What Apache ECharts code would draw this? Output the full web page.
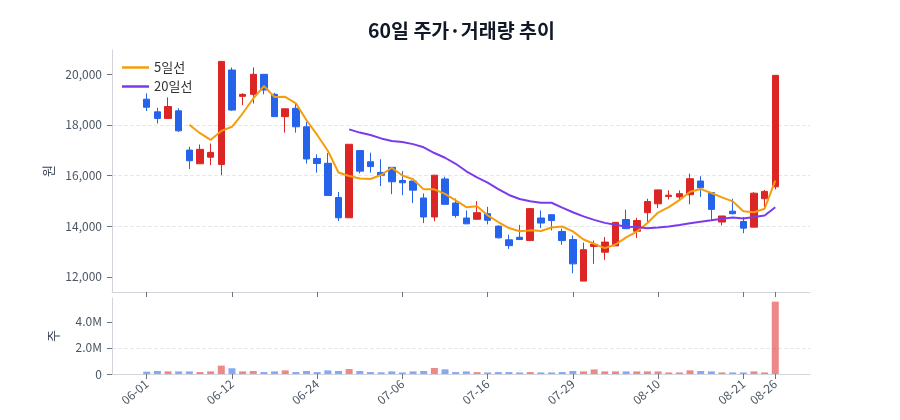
<!DOCTYPE html>
<html>
<head>
<meta charset="utf-8">
<script src="https://cdn.jsdelivr.net/npm/echarts@6.0.0/dist/echarts.min.js"></script>
<style>
  html, body, #main { width: 100%; height: 100%; margin: 0; background: #fff; }
</style>
</head>
<body>
<div id="main"></div>
<script>
var dates = ['06-01','06-02','06-03','06-05','06-07','06-08','06-09','06-10','06-12',
  '06-13','06-14','06-15','06-17','06-18','06-20','06-22','06-24',
  '06-25','06-26','06-28','06-29','07-01','07-02','07-04','07-06',
  '07-07','07-08','07-10','07-11','07-12','07-13','07-14','07-16',
  '07-17','07-19','07-20','07-22','07-23','07-25','07-27','07-29',
  '07-30','08-01','08-02','08-04','08-05','08-06','08-08','08-10',
  '08-11','08-12','08-13','08-15','08-16','08-18','08-19','08-21',
  '08-22','08-25','08-26'];

var opens = [19010,18510,18250,18550,17000,16460,16720,16430,20160,19120,
  19200,19990,19200,18320,18650,17920,16670,16480,15130,14330,
  16980,16540,16120,16320,15800,15780,15110,14360,15860,14910,
  14320,14270,14490,14000,13460,13560,13430,14320,14450,13790,
  13470,11830,13200,12970,13220,14260,13800,14530,14880,15170,
  15150,15240,15780,15320,14160,14590,14180,13960,15080,15550];
var closes = [18690,18250,18720,17760,16580,17030,16910,20500,18580,19200,
  19990,19370,18320,18630,17920,16650,16470,15210,14330,17230,
  16170,16350,16010,15750,15710,15420,14360,16010,14860,14420,
  14090,14530,14230,13540,13230,13470,14690,14120,14220,13430,
  12510,13070,13280,13370,14150,13900,14220,14970,15430,15220,
  15280,15870,15510,14660,14400,14490,13920,15300,15370,19950];
var lows = [18540,18050,18250,17720,16250,16450,16410,16010,18550,18780,
  18840,19200,18320,17690,17690,16470,16110,15210,14200,14330,
  16080,16110,15580,15260,15220,14910,14120,14190,14860,14330,
  14090,14270,14070,13510,13100,13470,13430,13920,13830,13260,
  12140,11830,12510,12670,13220,13900,13530,14160,14710,15050,
  15040,14860,15150,14220,14030,14460,13720,13960,14660,15450];
var highs = [19240,18670,19080,18650,17130,17220,17260,20500,20260,19240,
  20260,19990,19260,18630,18840,18120,16830,16880,15350,17230,
  16980,16900,16640,16320,16170,15780,15290,16010,15950,15090,
  14620,14980,14760,14030,13660,14050,14690,14620,14450,13900,
  13630,13350,13430,13570,14150,14650,14330,15080,15430,15410,
  15410,16070,15970,15320,14400,15080,14360,15340,15430,19950];

var volumes = [180000,230000,200000,200000,200000,150000,200000,640000,440000,200000,
  230000,150000,200000,280000,150000,230000,150000,280000,230000,380000,
  230000,150000,130000,200000,120000,200000,230000,460000,360000,150000,
  200000,140000,120000,150000,150000,120000,150000,120000,120000,150000,
  230000,200000,350000,200000,200000,200000,200000,200000,200000,120000,
  120000,280000,230000,200000,120000,120000,120000,200000,120000,5550000];

// 5일선 from index 4, 20일선 from index 19
var ma5 = [18000,17668,17400,17756,17920,18444,19036,19528,19092,19102,
  18846,18178,17598,16976,16116,15978,15882,15858,16018,16302,
  15998,15848,15450,15450,15272,15014,14748,14782,14426,14162,
  13924,13800,13832,13810,13946,13986,13794,13470,13302,13132,
  13276,13554,13784,14122,14534,14748,15024,15354,15462,15308,
  15136,14978,14588,14546,14688,15798];
var ma20 = [17817,17691,17596,17461,17360,17317,17236,17109,16884,16698,
  16459,16164,15922,15718,15463,15229,15070,14981,14926,14921,
  14731,14548,14384,14247,14128,14050,13974,13967,13915,13944,
  13984,14043,14110,14174,14230,14289,14340,14301,14360,14418,14744];

var tickIdx = [0, 8, 16, 24, 32, 40, 48, 56, 59];
var priceTicks = [12000, 14000, 16000, 18000, 20000];
var volTicks = [0, 2000000, 4000000];

var UP = '#dc2626', DOWN = '#2563eb';
var AXIS = '#d1d5db', TICK = '#6b7280', LABEL = '#4b5563';

var candles = closes.map(function (c, i) { return [i, opens[i], c, lows[i], highs[i]]; });
var volData = volumes.map(function (v, i) {
  return { value: [i, v], itemStyle: { color: closes[i] >= opens[i] ? UP : DOWN, opacity: 0.55 } };
});
var ma5Data = ma5.map(function (v, i) { return [i + 4, v]; });
var ma20Data = ma20.map(function (v, i) { return [i + 19, v]; });

function xAxisOf(grid, withLabels) {
  return {
    type: 'value', gridIndex: grid, min: -3.26, max: 62.26,
    axisLine: { show: true, onZero: false, lineStyle: { color: AXIS } },
    axisTick: { show: true, customValues: tickIdx, length: 5, lineStyle: { color: TICK } },
    axisLabel: withLabels ? {
      customValues: tickIdx, rotate: 40, fontSize: 12, color: LABEL, margin: 8,
      formatter: function (v) { return dates[v]; }
    } : { show: false },
    splitLine: { show: false }
  };
}

var chart = echarts.init(document.getElementById('main'));
chart.setOption({
  animation: false,
  textStyle: { fontFamily: 'Noto Sans CJK KR' },
  title: {
    text: '60일 주가·거래량 추이', left: 363, top: 16,
    textStyle: { fontSize: 19.5, fontWeight: 'bold', color: '#111827', fontFamily: 'Noto Sans CJK KR' }
  },
  legend: {
    orient: 'vertical', left: 117, top: 56, icon: 'rect',
    itemWidth: 27, itemHeight: 2.5, itemGap: 6,
    textStyle: { fontSize: 13, color: '#333333' },
    data: ['5일선', '20일선']
  },
  grid: [
    { left: 112, right: 90, top: 50, height: 242 },
    { left: 112, right: 90, top: 298, height: 76 }
  ],
  xAxis: [xAxisOf(0, false), xAxisOf(1, true)],
  yAxis: [
    {
      type: 'value', gridIndex: 0, min: 11400, max: 20950,
      name: '원', nameLocation: 'middle', nameGap: 52,
      nameTextStyle: { fontSize: 13, color: '#374151' },
      axisLine: { show: true, onZero: false, lineStyle: { color: AXIS } },
      axisTick: { show: true, customValues: priceTicks, length: 5, lineStyle: { color: TICK } },
      axisLabel: {
        customValues: priceTicks, fontSize: 12, color: LABEL, margin: 10,
        formatter: function (v) { return v.toLocaleString('en-US'); }
      },
      splitLine: { show: true, showMinLine: false, showMaxLine: false, lineStyle: { type: 'dashed', color: '#e5e7eb' } }
    },
    {
      type: 'value', gridIndex: 1, min: 0, max: 5830000, interval: 2000000,
      name: '주', nameLocation: 'middle', nameGap: 52,
      nameTextStyle: { fontSize: 13, color: '#374151' },
      axisLine: { show: true, onZero: false, lineStyle: { color: AXIS } },
      axisTick: { show: true, customValues: volTicks, length: 5, lineStyle: { color: TICK } },
      axisLabel: {
        customValues: volTicks, fontSize: 12, color: LABEL, margin: 10,
        formatter: function (v) { return v === 0 ? '0' : (v / 1000000).toFixed(1) + 'M'; }
      },
      splitLine: { show: true, showMinLine: false, showMaxLine: false, lineStyle: { type: 'dashed', color: '#e5e7eb' } }
    }
  ],
  series: [
    {
      type: 'candlestick', xAxisIndex: 0, yAxisIndex: 0,
      data: candles, encode: { x: 0, y: [1, 2, 3, 4] }, barWidth: 7,
      itemStyle: { color: UP, color0: DOWN, borderColor: UP, borderColor0: DOWN, borderWidth: 1 }
    },
    {
      name: '5일선', type: 'line', xAxisIndex: 0, yAxisIndex: 0, data: ma5Data,
      symbol: 'none', lineStyle: { width: 2, color: '#f59e0b' }, itemStyle: { color: '#f59e0b' }
    },
    {
      name: '20일선', type: 'line', xAxisIndex: 0, yAxisIndex: 0, data: ma20Data,
      symbol: 'none', lineStyle: { width: 2, color: '#7c3aed' }, itemStyle: { color: '#7c3aed' }
    },
    {
      type: 'bar', xAxisIndex: 1, yAxisIndex: 1, data: volData, barWidth: 7
    }
  ]
});
</script>
</body>
</html>
